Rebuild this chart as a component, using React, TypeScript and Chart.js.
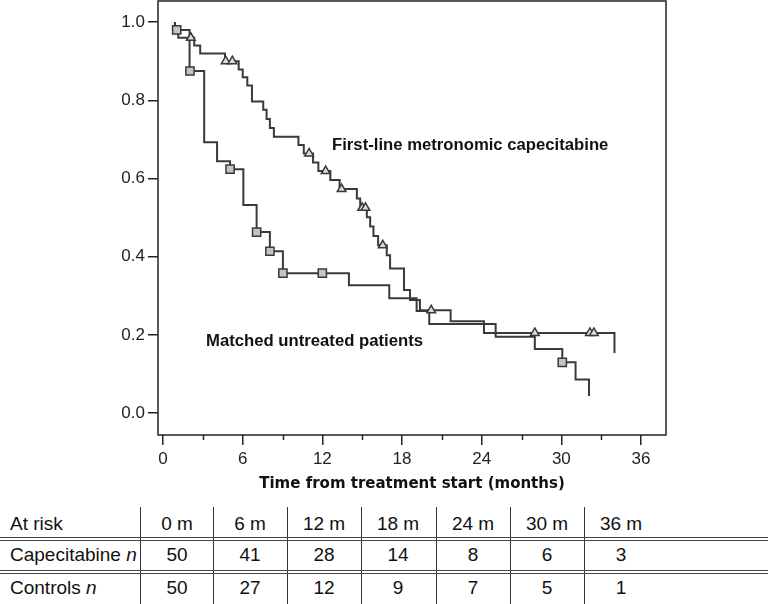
import React, { useEffect, useRef } from 'react';
import { Chart, registerables } from 'chart.js';

Chart.register(...registerables);

// ---- Data ----
const capTimes = [0.9, 0.9, 2.0, 2.35, 2.8, 4.67, 5.7, 6.0, 6.35, 6.7, 7.55, 7.8, 8.05, 8.35, 10.2, 10.6, 11.3, 11.7, 12.6, 13.3, 14.6, 14.85, 15.35, 15.6, 15.85, 16.2, 16.85, 17.1, 18.15, 18.6, 19.35, 21.66, 24.17, 34.0];
const capSurv = [1.0, 0.98, 0.96, 0.94, 0.92, 0.9, 0.879, 0.859, 0.838, 0.797, 0.776, 0.752, 0.729, 0.707, 0.686, 0.664, 0.641, 0.619, 0.596, 0.573, 0.549, 0.525, 0.501, 0.477, 0.453, 0.429, 0.404, 0.37, 0.315, 0.289, 0.263, 0.235, 0.205, 0.154];
const capCensorTimes = [2.1, 4.72, 5.22, 11.0, 12.25, 13.45, 15.0, 15.25, 16.55, 20.2, 28.0, 32.15, 32.45];
const capCensorSurv = [0.96, 0.9, 0.9, 0.664, 0.619, 0.573, 0.525, 0.525, 0.429, 0.263, 0.205, 0.205, 0.205];

const ctrlTimes = [0.9, 0.9, 1.15, 2.0, 3.1, 4.07, 5.05, 6.05, 7.05, 8.05, 9.03, 14.0, 17.04, 19.1, 20.05, 25.05, 28.0, 30.07, 31.07, 32.08];
const ctrlSurv = [1.0, 0.98, 0.96, 0.875, 0.693, 0.644, 0.624, 0.532, 0.463, 0.414, 0.358, 0.327, 0.294, 0.261, 0.228, 0.195, 0.164, 0.13, 0.086, 0.044];
const ctrlCensorTimes = [1.03, 2.03, 5.05, 7.05, 8.05, 9.03, 12.0, 30.07];
const ctrlCensorSurv = [0.98, 0.875, 0.624, 0.463, 0.414, 0.358, 0.358, 0.13];

const xTicks = [0, 6, 12, 18, 24, 30, 36];
const xMinorTicks = [3, 9, 15, 21, 27, 33];
const yTicks = [0, 0.2, 0.4, 0.6, 0.8, 1.0];

const xTitle = 'Time from treatment start (months)';
const capLabel = 'First-line metronomic capecitabine';
const ctrlLabel = 'Matched untreated patients';

const riskHeader = 'At risk';
const riskCols = ['0 m', '6 m', '12 m', '18 m', '24 m', '30 m', '36 m'];
const capRowName = 'Capecitabine';
const ctrlRowName = 'Controls';
const capAtRisk = [50, 41, 28, 14, 8, 6, 3];
const ctrlAtRisk = [50, 27, 12, 9, 7, 5, 1];

const LINE = '#3a3a3a';
const AXIS = '#222222';

const toXY = (xs: number[], ys: number[]) => xs.map((x, i) => ({ x, y: ys[i] }));

const framePlugin = {
  id: 'kmFrame',
  afterDraw(chart: any) {
    const { ctx, chartArea, scales } = chart;
    const { left, right, top, bottom } = chartArea;
    ctx.save();
    ctx.strokeStyle = AXIS;
    ctx.lineWidth = 1.5;
    ctx.strokeRect(left, top, right - left, bottom - top);
    // minor x ticks
    xMinorTicks.forEach((t) => {
      const px = Math.round(scales.x.getPixelForValue(t)) + 0.5;
      ctx.beginPath();
      ctx.moveTo(px, bottom);
      ctx.lineTo(px, bottom + 5);
      ctx.stroke();
    });
    // annotations
    ctx.fillStyle = '#111';
    ctx.font = 'bold 16.7px "Liberation Sans", Arial, sans-serif';
    ctx.textBaseline = 'middle';
    ctx.textAlign = 'left';
    ctx.fillText(capLabel, scales.x.getPixelForValue(12.73), scales.y.getPixelForValue(0.685));
    ctx.fillText(ctrlLabel, scales.x.getPixelForValue(3.24), scales.y.getPixelForValue(0.183));
    ctx.restore();
  },
};

const colLeft = [140, 213, 287, 361, 436, 510, 584];
const colW = 74;
const rowY = [508, 539, 572];
const rowH = 32;

export default function App() {
  const ref = useRef<HTMLCanvasElement>(null);

  useEffect(() => {
    if (!ref.current) return;
    const chart = new Chart(ref.current, {
      type: 'line',
      data: {
        datasets: [
          {
            label: 'cap-censor',
            data: toXY(capCensorTimes, capCensorSurv),
            showLine: false,
            pointStyle: 'triangle',
            pointRadius: 5,
            pointBackgroundColor: '#dcdcdc',
            pointBorderColor: LINE,
            pointBorderWidth: 1.5,
          },
          {
            label: 'ctrl-censor',
            data: toXY(ctrlCensorTimes, ctrlCensorSurv),
            showLine: false,
            pointStyle: 'rect',
            pointRadius: 5.8,
            pointBackgroundColor: '#c4c4c4',
            pointBorderColor: LINE,
            pointBorderWidth: 1.5,
          },
          {
            label: capLabel,
            data: toXY(capTimes, capSurv),
            stepped: true,
            borderColor: LINE,
            borderWidth: 2,
            pointRadius: 0,
            fill: false,
          },
          {
            label: ctrlLabel,
            data: toXY(ctrlTimes, ctrlSurv),
            stepped: true,
            borderColor: LINE,
            borderWidth: 2,
            pointRadius: 0,
            fill: false,
          },
        ],
      },
      options: {
        animation: false,
        responsive: false,
        devicePixelRatio: 1,
        layout: { autoPadding: false, padding: { left: 0, right: 102, top: 1, bottom: 0 } },
        plugins: { legend: { display: false }, tooltip: { enabled: false } },
        scales: {
          x: {
            type: 'linear',
            min: -0.377,
            max: 37.88,
            afterBuildTicks: (s: any) => {
              s.ticks = xTicks.map((v) => ({ value: v }));
            },
            afterFit: (s: any) => {
              s.height = 65;
              s.paddingLeft = 0;
              s.paddingRight = 0;
              s.paddingTop = 0;
              s.paddingBottom = 0;
            },
            ticks: {
              font: { family: '"Liberation Sans", Arial, sans-serif', size: 17 },
              color: AXIS,
              padding: 4,
              maxRotation: 0,
            },
            grid: { drawOnChartArea: false, drawTicks: true, tickLength: 10, color: AXIS, lineWidth: 1.5 },
            border: { display: false },
            title: {
              display: true,
              text: xTitle,
              color: '#111',
              font: { family: '"DejaVu Sans", sans-serif', weight: 'bold', size: 15 },
              padding: { top: 0, bottom: 7 },
            },
          },
          y: {
            type: 'linear',
            min: -0.056,
            max: 1.054,
            afterBuildTicks: (s: any) => {
              s.ticks = yTicks.map((v) => ({ value: v }));
            },
            afterFit: (s: any) => {
              s.width = 158;
              s.paddingLeft = 0;
              s.paddingRight = 0;
              s.paddingTop = 0;
              s.paddingBottom = 0;
            },
            ticks: {
              font: { family: '"Liberation Sans", Arial, sans-serif', size: 17 },
              color: AXIS,
              padding: 3,
              callback: (v: any) => Number(v).toFixed(1),
            },
            grid: { drawOnChartArea: false, drawTicks: true, tickLength: 10, color: AXIS, lineWidth: 1.5 },
            border: { display: false },
          },
        },
      },
      plugins: [framePlugin],
    } as any);
    return () => chart.destroy();
  }, []);

  const tableFont = '"Liberation Sans Narrow", "Liberation Sans", Arial, sans-serif';
  const cellStyle = (left: number, top: number, width: number, align: 'left' | 'center'): React.CSSProperties => ({
    position: 'absolute',
    left,
    top,
    width,
    height: rowH,
    lineHeight: rowH + 'px',
    textAlign: align,
    fontFamily: tableFont,
    fontSize: 19,
    color: '#111',
    whiteSpace: 'nowrap',
  });

  return (
    <div style={{ position: 'absolute', left: 0, top: 0, width: 768, height: 604, background: '#fff', overflow: 'hidden' }}>
      <canvas ref={ref} width={768} height={500} style={{ position: 'absolute', left: 0, top: 0, width: 768, height: 500 }} />
      {/* At-risk table */}
      <div style={cellStyle(10, rowY[0], 130, 'left')}>{riskHeader}</div>
      <div style={cellStyle(10, rowY[1], 130, 'left')}>
        {capRowName} <i>n</i>
      </div>
      <div style={cellStyle(10, rowY[2], 130, 'left')}>
        {ctrlRowName} <i>n</i>
      </div>
      {riskCols.map((c, i) => (
        <div key={'h' + i} style={cellStyle(colLeft[i], rowY[0], colW, 'center')}>{c}</div>
      ))}
      {capAtRisk.map((c, i) => (
        <div key={'a' + i} style={cellStyle(colLeft[i], rowY[1], colW, 'center')}>{c}</div>
      ))}
      {ctrlAtRisk.map((c, i) => (
        <div key={'b' + i} style={cellStyle(colLeft[i], rowY[2], colW, 'center')}>{c}</div>
      ))}
      {colLeft.map((x, i) => (
        <div key={'v' + i} style={{ position: 'absolute', left: x, top: 507, width: 1, height: 97, background: '#333' }} />
      ))}
      <div style={{ position: 'absolute', left: 0, top: 537, width: 768, height: 2, borderTop: '1px solid #444', borderBottom: '1px solid #444' }} />
      <div style={{ position: 'absolute', left: 0, top: 570, width: 768, height: 2, borderTop: '1px solid #444', borderBottom: '1px solid #444' }} />
    </div>
  );
}
